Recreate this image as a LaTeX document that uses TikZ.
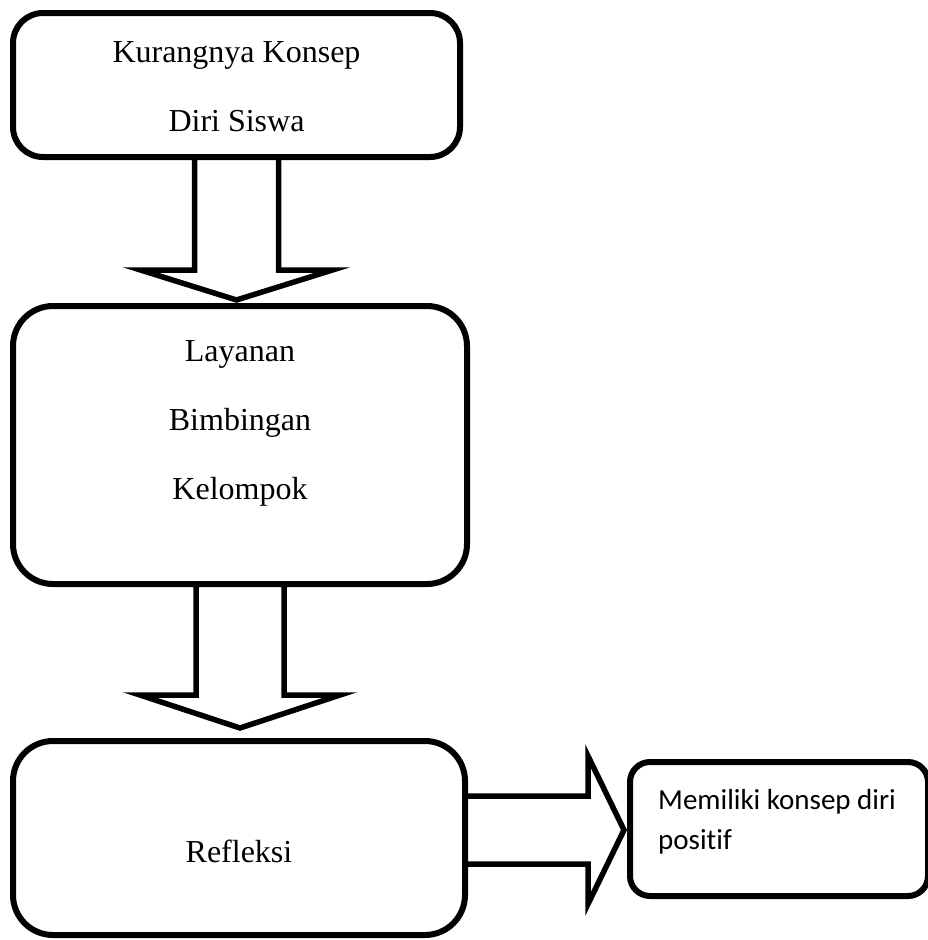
\documentclass[tikz,border=0pt]{standalone}
\usepackage{fontspec}
\setmainfont[Ligatures=NoCommon]{Liberation Serif}
\newfontfamily\carlito[Ligatures=NoCommon]{Carlito}

\begin{document}
\begin{tikzpicture}[x=1pt,y=-1pt,
    kotak/.style={draw,line width=6pt,rounded corners=#1,inner sep=0pt,anchor=north west},
    kotak/.default=34pt,
    teks/.style={align=center,font=\fontsize{32}{69}\selectfont},
    panah/.style={draw,line width=5.5pt,line join=miter,miter limit=20}]
    \clip (0,0) rectangle (928,940);
    % draw boxes
    \node (kurang) [kotak=30pt,minimum width=447pt,minimum height=144pt] at (10,10) {};
    \node (layanan) [kotak=40pt,minimum width=454pt,minimum height=278pt] at (10,303) {};
    \node (refleksi) [kotak=40pt,minimum width=452pt,minimum height=194pt] at (10,738) {};
    \node (hasil) [kotak=20pt,minimum width=298pt,minimum height=134pt] at (627,759) {};
    % texts
    \node (tkurang) [teks] at ([yshift=-2pt]kurang.center) {Kurangnya Konsep\\Diri Siswa};
    \node (tlayanan) [teks] at ([yshift=22pt]layanan.center) {Layanan\\Bimbingan\\Kelompok};
    \node (trefleksi) [teks] at ([yshift=-13pt]refleksi.center) {Refleksi};
    \node (thasil) [align=left,anchor=west,inner sep=0pt,font=\carlito\fontsize{29}{40}\selectfont]
        at ([xshift=31pt,yshift=7pt]hasil.west) {Memiliki konsep diri\\positif};
    % draw block arrows
    \draw[panah] ([xshift=-42pt]kurang.south) -- ++(0,110) -- ++(-54,0) -- ++(96,30)
        -- ++(96,-30) -- ++(-54,0) -- ([xshift=42pt]kurang.south);
    \draw[panah] ([xshift=-44pt]layanan.south) -- ++(0,108) -- ++(-56,0) -- ++(100,33)
        -- ++(100,-33) -- ++(-56,0) -- ([xshift=44pt]layanan.south);
    \draw[panah] ([yshift=42pt]refleksi.east) -- ++(120,0) -- ++(0,-40) -- ++(36,74)
        -- ++(-36,74) -- ++(0,-40) -- ([yshift=-26pt]refleksi.east);
\end{tikzpicture}
\end{document}
